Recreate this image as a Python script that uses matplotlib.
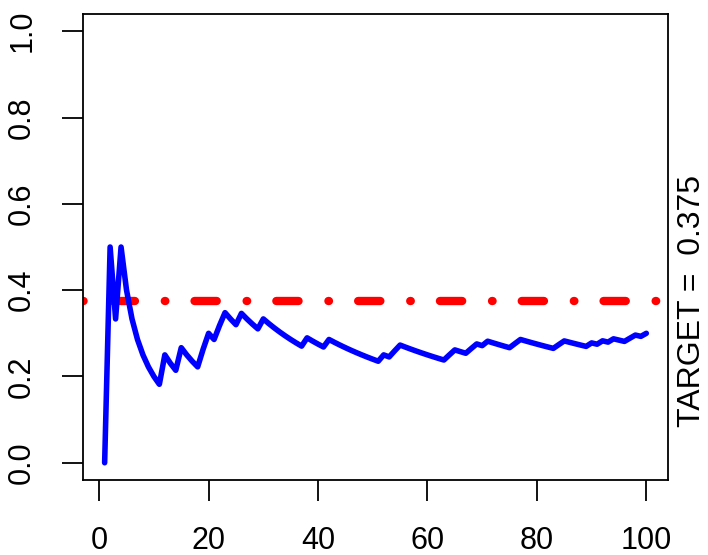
import matplotlib
matplotlib.use("Agg")
import matplotlib.pyplot as plt
import numpy as np

# outcome of each of the 100 trials (1 = hit)
trials = [
    0, 1, 0, 1, 0, 0, 0, 0, 0, 0,
    0, 1, 0, 0, 1, 0, 0, 0, 1, 1,
    0, 1, 1, 0, 0, 1, 0, 0, 0, 1,
    0, 0, 0, 0, 0, 0, 0, 1, 0, 0,
    0, 1, 0, 0, 0, 0, 0, 0, 0, 0,
    0, 1, 0, 1, 1, 0, 0, 0, 0, 0,
    0, 0, 0, 1, 1, 0, 0, 1, 1, 0,
    1, 0, 0, 0, 0, 1, 1, 0, 0, 0,
    0, 0, 0, 1, 1, 0, 0, 0, 0, 1,
    0, 1, 0, 1, 0, 0, 1, 1, 0, 1,
]
target = 0.375
yticks = [0.0, 0.2, 0.4, 0.6, 0.8, 1.0]
xticks = [0, 20, 40, 60, 80, 100]

n = np.arange(1, len(trials) + 1)
running = np.cumsum(trials) / n

plt.rcParams["font.family"] = ["Liberation Sans", "DejaVu Sans"]
plt.rcParams["lines.scale_dashes"] = False

fig = plt.figure(figsize=(7.08, 5.55), dpi=100)
ax = fig.add_axes([0.1172, 0.1351, 0.8263, 0.8397])

# ── target line (R style dotdash) ──
ax.axhline(target, color="red", linewidth=6.0, solid_capstyle="round",
           dash_capstyle="round", dashes=(0.4, 21, 16, 21.5), zorder=2)

# ── running proportion ──
ax.plot(n, running, color="blue", linewidth=4.0, solid_joinstyle="round",
        solid_capstyle="round", zorder=3)

ax.set_xlim(1 - 0.04 * 99, 100 + 0.04 * 99)
ax.set_ylim(-0.04, 1.04)
ax.set_xticks(xticks)
ax.set_yticks(yticks)
ax.set_xticklabels([str(v) for v in xticks])
ax.set_yticklabels([f"{v:.1f}" for v in yticks], rotation=90, va="center")

ax.tick_params(axis="both", direction="out", length=15, width=1.3,
               labelsize=22, colors="black")
ax.tick_params(axis="x", pad=18)
ax.tick_params(axis="y", pad=18)
for s in ax.spines.values():
    s.set_linewidth(1.3)
    s.set_color("black")

ax.text(1.041, (target + 0.04) / 1.08, f"TARGET =  {target}",
        transform=ax.transAxes, rotation=90, ha="center", va="center",
        fontsize=23)

fig.savefig("out.png", dpi=100)
plt.close(fig)
